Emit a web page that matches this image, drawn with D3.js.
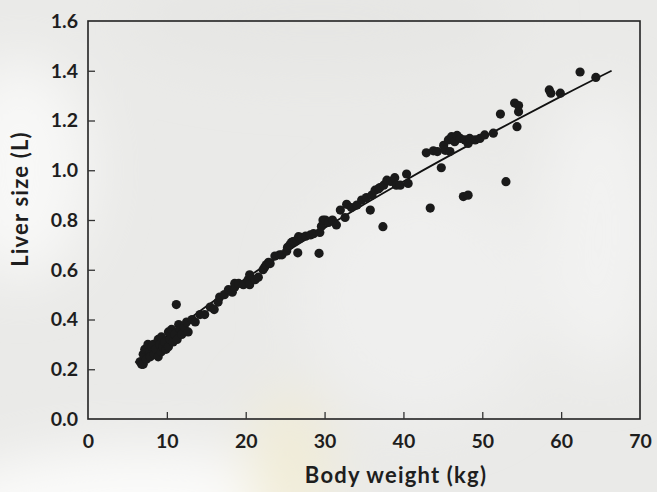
<!DOCTYPE html>
<html>
<head>
<meta charset="utf-8">
<script src="https://cdn.jsdelivr.net/npm/d3@7"></script>
<style>
  html, body { margin: 0; padding: 0; background: #eaeae8; }
  svg { display: block; }
  text { font-family: Lato, "Open Sans", sans-serif; font-weight: 700; fill: #1e1e1e; }
</style>
</head>
<body>
<div id="chart"></div>
<script>
// Body weight (kg) of each subject
const weights = [6.6,6.8,7.0,7.0,7.2,7.4,7.6,7.8,7.9,8.1,8.3,8.4,8.6,8.9,8.9,9.1,9.3,9.3,9.5,9.7,9.9,10.2,10.2,10.4,10.6,10.8,11.0,11.2,11.3,11.5,11.7,11.9,12.2,12.5,12.7,13.2,13.6,14.2,14.8,15.5,16.0,16.5,16.7,17.3,17.8,18.3,18.6,18.6,19.1,19.7,20.3,20.5,20.5,21.2,21.6,22.2,22.4,22.6,22.9,23.1,23.7,24.3,24.6,25.2,25.3,25.6,25.8,26.0,26.2,26.5,26.6,26.7,26.9,27.1,27.6,28.2,28.6,29.3,29.4,29.6,29.8,30.1,30.5,31.0,31.5,32.0,32.6,32.8,33.4,34.1,34.7,35.3,35.8,36.0,36.4,36.8,37.0,37.4,37.5,37.9,38.4,38.9,39.1,39.6,40.4,40.6,42.9,43.4,43.8,44.3,44.8,45.1,45.3,45.7,45.9,46.1,46.5,46.8,47.2,47.6,47.8,48.2,48.2,48.4,49.1,49.7,50.3,51.4,52.3,53.0,54.1,54.4,54.6,54.6,58.5,58.7,59.9,62.4,64.4];
// Liver size (L) of each subject
const livers = [0.23,0.22,0.26,0.22,0.28,0.24,0.30,0.27,0.25,0.29,0.30,0.26,0.28,0.32,0.25,0.30,0.33,0.27,0.29,0.31,0.28,0.35,0.29,0.32,0.36,0.31,0.34,0.46,0.32,0.38,0.36,0.34,0.37,0.39,0.35,0.40,0.39,0.42,0.42,0.45,0.44,0.47,0.49,0.50,0.52,0.51,0.53,0.545,0.545,0.54,0.56,0.58,0.54,0.56,0.57,0.60,0.61,0.62,0.63,0.625,0.655,0.66,0.66,0.675,0.69,0.70,0.71,0.713,0.713,0.72,0.668,0.733,0.726,0.73,0.735,0.74,0.745,0.666,0.75,0.775,0.80,0.80,0.79,0.80,0.78,0.84,0.81,0.863,0.85,0.86,0.88,0.89,0.84,0.90,0.92,0.925,0.93,0.773,0.94,0.96,0.955,0.97,0.94,0.94,0.985,0.947,1.07,0.848,1.078,1.075,1.01,1.10,1.08,1.122,1.075,1.135,1.115,1.14,1.128,0.894,1.122,0.90,1.108,1.128,1.122,1.128,1.142,1.149,1.226,0.954,1.27,1.175,1.26,1.235,1.323,1.31,1.31,1.395,1.373];
const fitX = [6.0, 10, 20, 30, 40, 50, 60, 66.4];
const fitY = [0.227, 0.334, 0.565, 0.768, 0.955, 1.130, 1.297, 1.40];

const xTicks = [0, 10, 20, 30, 40, 50, 60, 70];
const yTicks = [0.0, 0.2, 0.4, 0.6, 0.8, 1.0, 1.2, 1.4, 1.6];
const xTitle = "Body weight (kg)";
const yTitle = "Liver size (L)";

const W = 657, H = 492;
const m = { left: 88, right: 17, top: 21, bottom: 73 };

const svg = d3.select("#chart").append("svg").attr("width", W).attr("height", H);

// blurred photographic background
const defs = svg.append("defs");
defs.append("filter").attr("id", "blur").attr("x", "-50%").attr("y", "-50%").attr("width", "200%").attr("height", "200%")
  .append("feGaussianBlur").attr("stdDeviation", 28);
const bg = svg.append("g");
bg.append("rect").attr("width", W).attr("height", H).attr("fill", "#eaeae8");
const blobs = bg.append("g").attr("filter", "url(#blur)");
blobs.append("ellipse").attr("cx", 20).attr("cy", 170).attr("rx", 70).attr("ry", 110).attr("fill", "#f8f8f7");
blobs.append("ellipse").attr("cx", 140).attr("cy", 510).attr("rx", 200).attr("ry", 60).attr("fill", "#fbfbfa");
blobs.append("ellipse").attr("cx", 290).attr("cy", 470).attr("rx", 40).attr("ry", 80).attr("fill", "#f1ecd6");
blobs.append("ellipse").attr("cx", 600).attr("cy", 230).attr("rx", 60).attr("ry", 140).attr("fill", "#f2f2f1");
blobs.append("ellipse").attr("cx", 420).attr("cy", 300).attr("rx", 120).attr("ry", 120).attr("fill", "#efefee");
blobs.append("ellipse").attr("cx", 320).attr("cy", 20).attr("rx", 200).attr("ry", 50).attr("fill", "#e6e6e4");

const x = d3.scaleLinear().domain([0, 70]).range([m.left, W - m.right]);
const y = d3.scaleLinear().domain([0, 1.6]).range([H - m.bottom, m.top]);

const g = svg.append("g");

// frame
g.append("rect")
  .attr("x", x(0)).attr("y", y(1.6))
  .attr("width", x(70) - x(0)).attr("height", y(0) - y(1.6))
  .attr("fill", "none").attr("stroke", "#222").attr("stroke-width", 1.6);

// axes with inward ticks
const xAxis = g.append("g").attr("transform", `translate(0,${y(0)})`)
  .call(d3.axisBottom(x).tickValues(xTicks).tickSize(-7).tickPadding(15).tickFormat(d3.format("d")));
const yAxis = g.append("g").attr("transform", `translate(${x(0)},0)`)
  .call(d3.axisLeft(y).tickValues(yTicks).tickSize(-7).tickPadding(10).tickFormat(d3.format(".1f")));
[xAxis, yAxis].forEach(a => {
  a.select(".domain").remove();
  a.selectAll(".tick line").attr("stroke", "#333").attr("stroke-width", 1.3);
  a.selectAll(".tick text").attr("font-size", 19.5).attr("fill", "#1e1e1e")
    .attr("font-family", "Lato, 'Open Sans', sans-serif").attr("font-weight", 700);
});
xAxis.selectAll(".tick line").filter(d => d === 0 || d === 70).remove();
yAxis.selectAll(".tick line").filter(d => d === 0 || d === 1.6).remove();

// fitted curve
g.append("path")
  .datum(fitX.map((v, i) => [v, fitY[i]]))
  .attr("d", d3.line().x(d => x(d[0])).y(d => y(d[1])).curve(d3.curveNatural))
  .attr("fill", "none").attr("stroke", "#111").attr("stroke-width", 1.8);

// points
const pts = weights.map((w, i) => ({ w, l: livers[i] }));
g.append("g").selectAll("circle").data(pts).join("circle")
  .attr("cx", d => x(d.w)).attr("cy", d => y(d.l)).attr("r", 4.6)
  .attr("fill", "#1a1a1a");

// titles
svg.append("text").attr("x", 396).attr("y", 483).attr("text-anchor", "middle")
  .attr("font-size", 22).attr("letter-spacing", 1.2).text(xTitle);
svg.append("text").attr("transform", `translate(28,199) rotate(-90)`).attr("text-anchor", "middle")
  .attr("font-size", 22).attr("letter-spacing", 1.2).text(yTitle);
</script>
</body>
</html>
